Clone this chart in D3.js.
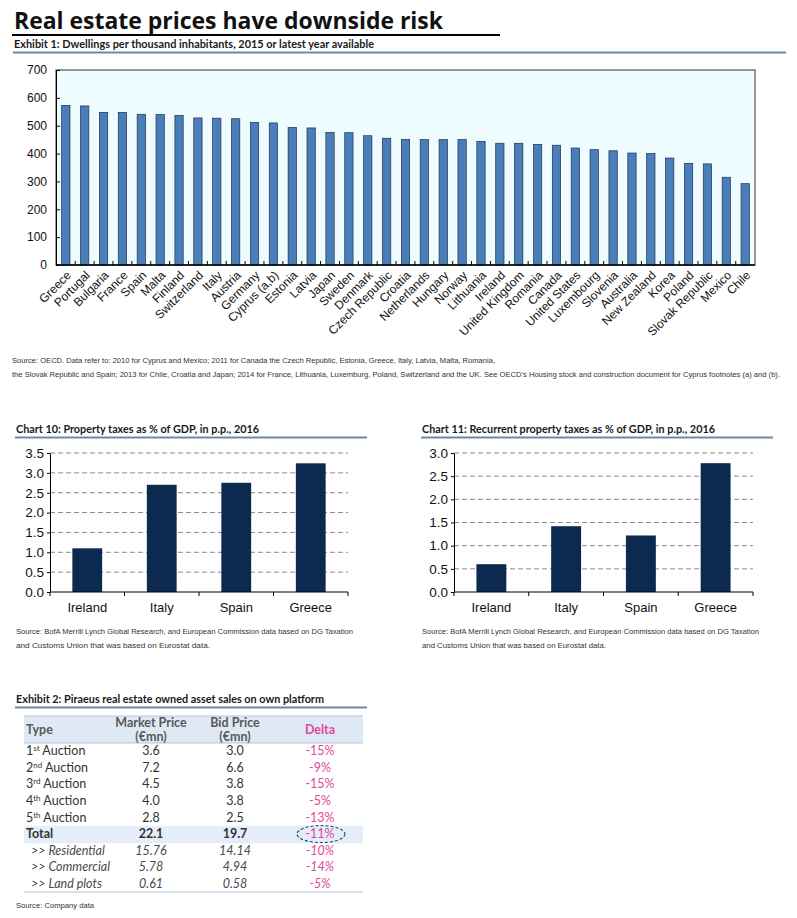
<!DOCTYPE html>
<html>
<head>
<meta charset="utf-8">
<script src="https://cdn.jsdelivr.net/npm/d3@7"></script>
<style>
  body { margin: 0; background: #fff; }
  svg { display: block; }
  .narrow { font-family: "Liberation Sans Narrow", "Arial Narrow", "Liberation Sans", Arial, sans-serif; }
</style>
</head>
<body>
<svg id="page"></svg>
<script>
document.addEventListener("DOMContentLoaded", function () {
  // Exhibit 1 data
  const countries = ["Greece", "Portugal", "Bulgaria", "France", "Spain", "Malta", "Finland", "Switzerland",
    "Italy", "Austria", "Germany", "Cyprus (a,b)", "Estonia", "Latvia", "Japan", "Sweden", "Denmark",
    "Czech Republic", "Croatia", "Netherlands", "Hungary", "Norway", "Lithuania", "Ireland",
    "United Kingdom", "Romania", "Canada", "United States", "Luxembourg", "Slovenia", "Australia",
    "New Zealand", "Korea", "Poland", "Slovak Republic", "Mexico", "Chile"];
  const dwellings = [573, 571, 548, 548, 541, 540, 537, 528, 527, 525, 512, 510, 494, 492, 476, 475, 464,
    455, 451, 450, 450, 450, 444, 437, 437, 433, 430, 420, 414, 410, 402, 400, 384, 365, 363, 315, 292];
  const dwellTicks = [0, 100, 200, 300, 400, 500, 600, 700];

  // Charts 10 / 11 data
  const taxCountries = ["Ireland", "Italy", "Spain", "Greece"];
  const propertyTax = [1.1, 2.7, 2.75, 3.24];
  const recurrentTax = [0.6, 1.42, 1.22, 2.78];
  const propertyTicks = [0, 0.5, 1, 1.5, 2, 2.5, 3, 3.5];
  const recurrentTicks = [0, 0.5, 1, 1.5, 2, 2.5, 3];

  // Exhibit 2 data
  const saleTypes = [["1", "st", " Auction"], ["2", "nd", " Auction"], ["3", "rd", " Auction"],
    ["4", "th", " Auction"], ["5", "th", " Auction"], ["Total", "", ""],
    [">> Residential", "", ""], [">> Commercial", "", ""], [">> Land plots", "", ""]];
  const marketPrice = ["3.6", "7.2", "4.5", "4.0", "2.8", "22.1", "15.76", "5.78", "0.61"];
  const bidPrice = ["3.0", "6.6", "3.8", "3.8", "2.5", "19.7", "14.14", "4.94", "0.58"];
  const delta = ["-15%", "-9%", "-15%", "-5%", "-13%", "-11%", "-10%", "-14%", "-5%"];
  const rowKind = ["plain", "plain", "plain", "plain", "plain", "total", "sub", "sub", "sub"];

  const w = 797;
  const h = 918;
  const svg = d3.select("#page").attr("width", w).attr("height", h);

  const sans = "'Liberation Sans', Arial, sans-serif";
  const head = "Lato, 'Open Sans', sans-serif";
  const lineBlue = "#6f87a6";

  // Page title
  svg.append("text")
    .attr("x", 14).attr("y", 29)
    .attr("font-family", "'Open Sans', sans-serif").attr("font-weight", 700).attr("font-size", 23)
    .attr("textLength", 429).attr("lengthAdjust", "spacingAndGlyphs")
    .attr("fill", "#111")
    .text("Real estate prices have downside risk");
  svg.append("line").attr("x1", 12).attr("x2", 500).attr("y1", 35).attr("y2", 35)
    .attr("stroke", "#000").attr("stroke-width", 2);

  const heading = (x, y, len, txt, x2) => {
    svg.append("text")
      .attr("x", x).attr("y", y)
      .attr("font-family", head).attr("font-weight", 700).attr("font-size", 12)
      .attr("textLength", len).attr("lengthAdjust", "spacingAndGlyphs")
      .attr("fill", "#1a1a1a")
      .text(txt);
    svg.append("line").attr("x1", x - 1).attr("x2", x2).attr("y1", y + 4.5).attr("y2", y + 4.5)
      .attr("stroke", lineBlue).attr("stroke-width", 2);
  };

  const note = (x, y, len, txt) => {
    svg.append("text")
      .attr("class", "narrow")
      .attr("x", x).attr("y", y)
      .attr("font-size", 7.5)
      .attr("textLength", len).attr("lengthAdjust", "spacingAndGlyphs")
      .attr("fill", "#333")
      .text(txt);
  };

  // ---------- Exhibit 1 ----------
  heading(14, 48, 360, "Exhibit 1: Dwellings per thousand inhabitants, 2015 or latest year available", 786);

  const x1 = d3.scaleBand().domain(countries).range([56, 755]).paddingInner(0.56).paddingOuter(0.3);
  const y1 = d3.scaleLinear().domain([0, 700]).range([265, 70]);

  svg.append("rect")
    .attr("x", 56).attr("y", 70).attr("width", 699).attr("height", 195)
    .attr("fill", "#effcff").attr("stroke", "#333").attr("stroke-width", 1);

  svg.append("g").selectAll("rect")
    .data(dwellings)
    .enter()
    .append("rect")
    .attr("x", (d, i) => x1(countries[i]))
    .attr("y", (d) => y1(d))
    .attr("width", x1.bandwidth())
    .attr("height", (d) => y1(0) - y1(d))
    .attr("fill", "#4a7ebb")
    .attr("stroke", "#1f2f4a")
    .attr("stroke-width", 0.7);

  const yAxis1 = svg.append("g")
    .attr("transform", "translate(56,0)")
    .call(d3.axisLeft(y1).tickValues(dwellTicks).tickSizeInner(-4).tickSizeOuter(0).tickPadding(9));
  yAxis1.select(".domain").attr("stroke", "#000");
  yAxis1.selectAll("text").attr("font-family", sans).attr("font-size", 12).attr("fill", "#111");

  svg.append("line").attr("x1", 56).attr("x2", 755).attr("y1", y1(0)).attr("y2", y1(0))
    .attr("stroke", "#000").attr("stroke-width", 1.5);

  // band-boundary ticks
  const step1 = x1.step();
  svg.append("g").selectAll("line")
    .data(countries.slice(1))
    .enter()
    .append("line")
    .attr("x1", (d) => x1(d) - step1 * 0.28)
    .attr("x2", (d) => x1(d) - step1 * 0.28)
    .attr("y1", y1(0) - 4).attr("y2", y1(0))
    .attr("stroke", "#000");

  svg.append("g").selectAll("text")
    .data(countries)
    .enter()
    .append("text")
    .attr("transform", (d) => `translate(${x1(d) + x1.bandwidth() / 2 + 6},${y1(0) + 11}) rotate(-45)`)
    .attr("text-anchor", "end")
    .attr("font-family", sans).attr("font-size", 12).attr("fill", "#111")
    .text((d) => d);

  note(12, 363, 483, "Source: OECD. Data refer to: 2010 for Cyprus and Mexico; 2011 for Canada the Czech Republic, Estonia, Greece, Italy, Latvia, Malta, Romania,");
  note(12, 377, 768, "the Slovak Republic and Spain; 2013 for Chile, Croatia and Japan; 2014 for France, Lithuania, Luxemburg, Poland, Switzerland and the UK. See OECD\u2019s Housing stock and construction document for Cyprus footnotes (a) and (b).");

  // ---------- Charts 10 and 11 ----------
  const smallChart = (opts) => {
    heading(opts.left, 433, opts.titleLen, opts.title, opts.lineEnd);

    const x = d3.scaleBand().domain(taxCountries).range([opts.x0, opts.x1]).paddingInner(0.6).paddingOuter(0.3);
    const y = d3.scaleLinear().domain([0, opts.max]).range([592, 453]);

    svg.append("g").selectAll("line")
      .data(opts.ticks.slice(1))
      .enter()
      .append("line")
      .attr("x1", opts.x0).attr("x2", opts.x1)
      .attr("y1", (d) => y(d)).attr("y2", (d) => y(d))
      .attr("stroke", "#8a8a8a").attr("stroke-dasharray", "5,3").attr("stroke-width", 1);

    svg.append("g").selectAll("rect")
      .data(opts.values)
      .enter()
      .append("rect")
      .attr("x", (d, i) => x(taxCountries[i]))
      .attr("y", (d) => y(d))
      .attr("width", x.bandwidth())
      .attr("height", (d) => y(0) - y(d))
      .attr("fill", "#0c2a50");

    const ya = svg.append("g")
      .attr("transform", `translate(${opts.x0},0)`)
      .call(d3.axisLeft(y).tickValues(opts.ticks).tickFormat(d3.format(".1f")).tickSizeInner(3).tickSizeOuter(0).tickPadding(3));
    ya.select(".domain").attr("stroke", "#000");
    ya.selectAll("text").attr("class", "narrow").attr("font-size", 13.5).attr("fill", "#111");

    const bounds = taxCountries.map((c) => x(c) - x.step() * 0.3).concat([opts.x1]);
    svg.append("line").attr("x1", opts.x0).attr("x2", opts.x1).attr("y1", y(0)).attr("y2", y(0))
      .attr("stroke", "#000").attr("stroke-width", 1.2);
    svg.append("g").selectAll("line")
      .data(bounds)
      .enter()
      .append("line")
      .attr("x1", (d) => d).attr("x2", (d) => d)
      .attr("y1", y(0)).attr("y2", y(0) + 4)
      .attr("stroke", "#000");

    svg.append("g").selectAll("text")
      .data(taxCountries)
      .enter()
      .append("text")
      .attr("class", "narrow")
      .attr("x", (d) => x(d) + x.bandwidth() / 2)
      .attr("y", 612)
      .attr("text-anchor", "middle")
      .attr("font-size", 13).attr("fill", "#111")
      .text((d) => d);

    note(opts.left, 634, opts.noteLen, "Source: BofA Merrill Lynch Global Research, and European Commission data based on DG Taxation");
    note(opts.left, 648, opts.note2Len, "and Customs Union that was based on Eurostat data.");
  };

  smallChart({ left: 16, title: "Chart 10: Property taxes as % of GDP, in p.p., 2016", titleLen: 243, lineEnd: 367,
    x0: 50, x1: 348, max: 3.5, ticks: propertyTicks, values: propertyTax, noteLen: 337, note2Len: 194 });
  smallChart({ left: 422, title: "Chart 11: Recurrent property taxes as % of GDP, in p.p., 2016", titleLen: 293, lineEnd: 773,
    x0: 454, x1: 753, max: 3.0, ticks: recurrentTicks, values: recurrentTax, noteLen: 337, note2Len: 184 });

  // ---------- Exhibit 2 table ----------
  heading(16, 703, 308, "Exhibit 2: Piraeus real estate owned asset sales on own platform", 367);

  const tLeft = 24, tRight = 363;
  const rows = d3.scaleBand().domain(d3.range(saleTypes.length)).range([743, 892]);
  const colMarket = 151, colBid = 235, colDelta = 320;
  const tableFont = "Lato, 'Open Sans', sans-serif";
  const pink = "#e2479b";

  svg.append("rect").attr("x", tLeft).attr("y", 716).attr("width", tRight - tLeft).attr("height", 27)
    .attr("fill", "#dfe9f5");
  svg.append("rect").attr("x", tLeft).attr("y", rows(5)).attr("width", tRight - tLeft).attr("height", rows.bandwidth() + 1)
    .attr("fill", "#e4edf8");
  [716, 743, 892].forEach((yy) => {
    svg.append("line").attr("x1", tLeft).attr("x2", tRight).attr("y1", yy).attr("y2", yy)
      .attr("stroke", "#b8c4d4").attr("stroke-width", 1);
  });

  const hdr = svg.append("g").attr("font-family", tableFont).attr("font-weight", 700).attr("font-size", 12.5).attr("fill", "#595959");
  hdr.append("text").attr("x", 26).attr("y", 734).text("Type");
  hdr.append("text").attr("x", colMarket).attr("y", 727).attr("text-anchor", "middle").text("Market Price");
  hdr.append("text").attr("x", colMarket).attr("y", 741).attr("text-anchor", "middle").text("(\u20acmn)");
  hdr.append("text").attr("x", colBid).attr("y", 727).attr("text-anchor", "middle").text("Bid Price");
  hdr.append("text").attr("x", colBid).attr("y", 741).attr("text-anchor", "middle").text("(\u20acmn)");
  hdr.append("text").attr("x", colDelta).attr("y", 734).attr("text-anchor", "middle").attr("fill", pink).text("Delta");

  const body = svg.append("g").attr("font-family", tableFont).attr("font-size", 12.5);
  saleTypes.forEach((t, i) => {
    const yy = rows(i) + rows.bandwidth() / 2 + 4;
    const kind = rowKind[i];
    const weight = kind === "total" ? 700 : 400;
    const style = kind === "sub" ? "italic" : "normal";
    const col = kind === "sub" ? "#4a4a4a" : "#333";

    const lab = body.append("text").attr("x", kind === "sub" ? 31 : 26).attr("y", yy)
      .attr("font-weight", weight).attr("font-style", style).attr("fill", col);
    lab.append("tspan").text(t[0]);
    if (t[1]) {
      lab.append("tspan").attr("font-size", 8).attr("dy", -4).text(t[1]);
      lab.append("tspan").attr("dy", 4).text(t[2]);
    }
    body.append("text").attr("x", colMarket).attr("y", yy).attr("text-anchor", "middle")
      .attr("font-weight", weight).attr("font-style", style).attr("fill", col).text(marketPrice[i]);
    body.append("text").attr("x", colBid).attr("y", yy).attr("text-anchor", "middle")
      .attr("font-weight", weight).attr("font-style", style).attr("fill", col).text(bidPrice[i]);
    body.append("text").attr("x", colDelta).attr("y", yy).attr("text-anchor", "middle")
      .attr("font-style", style).attr("fill", pink).text(delta[i]);
  });

  // dashed circle round the total delta
  svg.append("ellipse")
    .attr("cx", colDelta + 1).attr("cy", rows(5) + rows.bandwidth() / 2)
    .attr("rx", 24).attr("ry", 8.5)
    .attr("fill", "none").attr("stroke", "#24407a").attr("stroke-width", 1.1).attr("stroke-dasharray", "3,2");

  note(16, 908, 78, "Source: Company data");
});
</script>
</body>
</html>
